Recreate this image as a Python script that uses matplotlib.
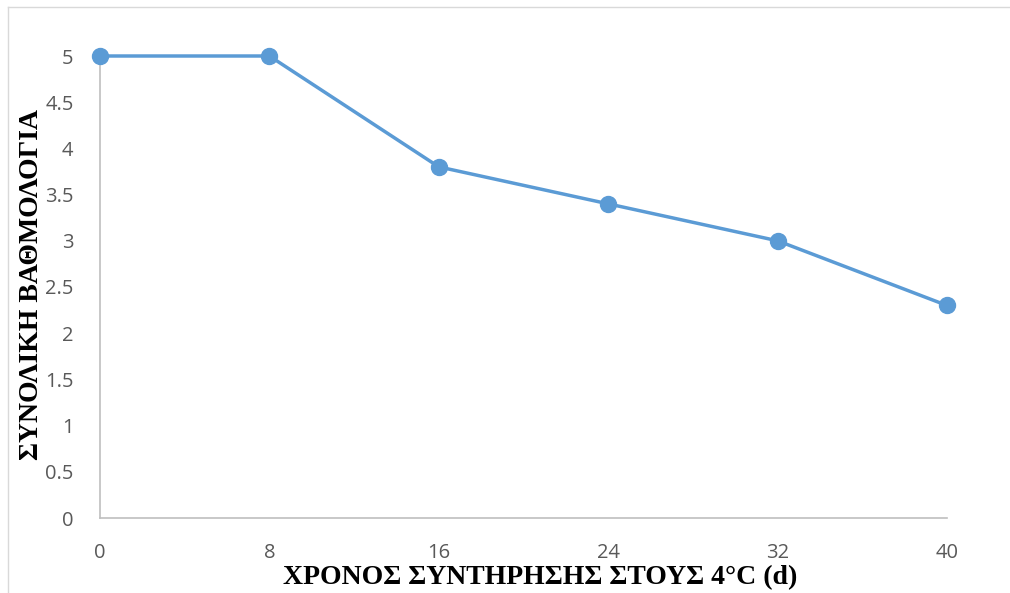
import matplotlib
matplotlib.use("Agg")
import matplotlib.pyplot as plt
from matplotlib.lines import Line2D

days = [0, 8, 16, 24, 32, 40]
scores = [5, 5, 3.8, 3.4, 3.0, 2.3]
yticks = [0, 0.5, 1, 1.5, 2, 2.5, 3, 3.5, 4, 4.5, 5]
ylabels = ["0", "0.5", "1", "1.5", "2", "2.5", "3", "3.5", "4", "4.5", "5"]
xlabel = "ΧΡΟΝΟΣ ΣΥΝΤΗΡΗΣΗΣ ΣΤΟΥΣ 4°C (d)"
ylabel = "ΣΥΝΟΛΙΚΗ ΒΑΘΜΟΛΟΓΙΑ"

W, H = 1010, 593
fig = plt.figure(figsize=(W / 100, H / 100), dpi=100)
ax = fig.add_axes([100 / W, (H - 518) / H, (947 - 100) / W, (518 - 56) / H])

ax.plot(days, scores, color="#5B9BD5", linewidth=2.5, marker="o",
        markersize=11.5, clip_on=False, zorder=3)

ax.set_xlim(0, 40)
ax.set_ylim(0, 5)
ax.set_xticks(days)
ax.set_xticklabels([str(d) for d in days])
ax.set_yticks(yticks)
ax.set_yticklabels(ylabels)
for s in ["top", "right"]:
    ax.spines[s].set_visible(False)
for s in ["left", "bottom"]:
    ax.spines[s].set_color("#BFBFBF")
    ax.spines[s].set_linewidth(1.2)
ax.tick_params(length=0, labelsize=14.5, labelcolor="#595959")
ax.tick_params(axis="x", pad=18)
ax.tick_params(axis="y", pad=19)
for lab in ax.get_xticklabels() + ax.get_yticklabels():
    lab.set_fontfamily("Open Sans")

fig.text(540 / W, (H - 578) / H, xlabel, ha="center", va="center",
         fontsize=20, fontweight="bold", family="Liberation Serif")
fig.text(32 / W, (H - 285) / H, ylabel, ha="center", va="center",
         rotation=90, fontsize=20, fontweight="bold", family="Liberation Serif")

# outer frame (top and left edges visible)
fig.add_artist(Line2D([8 / W, 1.0], [(H - 7) / H, (H - 7) / H],
                      transform=fig.transFigure, color="#D9D9D9", linewidth=1))
fig.add_artist(Line2D([8 / W, 8 / W], [0, (H - 7) / H],
                      transform=fig.transFigure, color="#D9D9D9", linewidth=1))

fig.savefig("out.png", dpi=100)
